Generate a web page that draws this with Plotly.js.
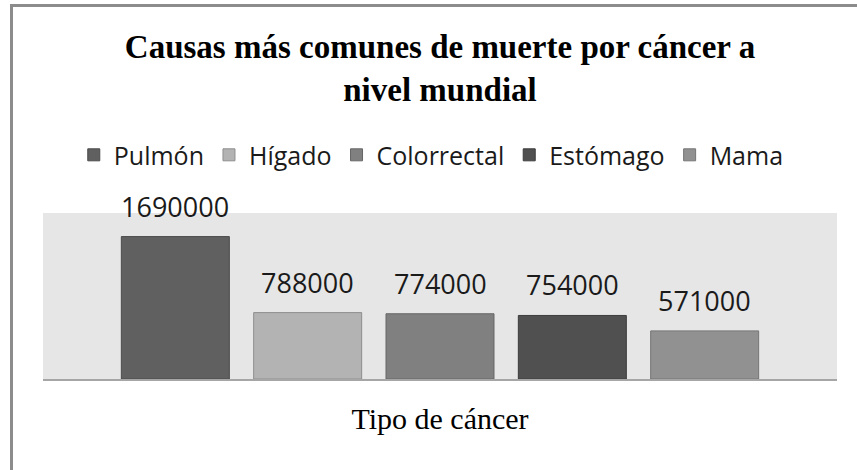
<!DOCTYPE html>
<html>
<head>
<meta charset="utf-8">
<script src="https://cdn.plot.ly/plotly-3.0.1.min.js"></script>
<style>
  html, body { margin: 0; padding: 0; background: #ffffff; }
  #wrap { position: relative; width: 857px; height: 470px; overflow: hidden; }
  #chart { position: absolute; left: 0; top: 0; width: 857px; height: 470px; }
  #frame { position: absolute; left: 10px; top: 4px; width: 900px; height: 500px;
           border-left: 3px solid #8c8c8c; border-top: 3px solid #8c8c8c; pointer-events: none; }
</style>
</head>
<body>
<div id="wrap">
  <div id="chart"></div>
  <div id="frame"></div>
</div>
<script>
// ---- data ----
const categories = ['Pulmón', 'Hígado', 'Colorrectal', 'Estómago', 'Mama'];
const deaths = [1690000, 788000, 774000, 754000, 571000];
const barColors = ['#606060', '#b3b3b3', '#808080', '#505050', '#919191'];
const outlineColors = ['#4a4a4a', '#8e8e8e', '#666666', '#3c3c3c', '#757575'];
const chartTitle = 'Causas más comunes de muerte por cáncer a<br>nivel mundial';
const xTitle = 'Tipo de cáncer';

const traces = categories.map((c, i) => ({
  type: 'bar',
  name: c,
  x: [c],
  y: [deaths[i]],
  marker: { color: barColors[i], line: { color: outlineColors[i], width: 1 } },
  hoverinfo: 'skip'
}));

const annotations = categories.map((c, i) => ({
  x: c,
  y: deaths[i],
  xref: 'x',
  yref: 'y',
  text: String(deaths[i]),
  showarrow: false,
  yanchor: 'bottom',
  xanchor: 'center',
  yshift: 10,
  font: { family: 'Open Sans', size: 27, color: '#1a1a1a' }
}));

const layout = {
  width: 857,
  height: 470,
  margin: { l: 43, r: 20, t: 213, b: 91 },
  paper_bgcolor: 'rgba(0,0,0,0)',
  plot_bgcolor: '#e6e6e6',
  barmode: 'overlay',
  bargap: 0.184,
  showlegend: true,
  title: {
    text: chartTitle,
    font: { family: 'Liberation Serif', size: 33, color: '#000000', weight: 'bold' },
    x: 0.5, xref: 'paper', xanchor: 'center',
    y: 1 - 58 / 470, yref: 'container', yanchor: 'middle'
  },
  legend: {
    orientation: 'h',
    x: 0.489, xanchor: 'center',
    y: 1.349, yanchor: 'middle',
    font: { family: 'Open Sans', size: 25, color: '#1a1a1a' },
    itemwidth: 30,
    traceorder: 'normal',
    bgcolor: 'rgba(0,0,0,0)'
  },
  xaxis: {
    type: 'category',
    categoryorder: 'array',
    categoryarray: categories,
    range: [-1, 5],
    showticklabels: false,
    ticks: '',
    showgrid: false,
    zeroline: false,
    showline: true,
    linecolor: '#a6a6a6',
    linewidth: 2,
    fixedrange: true,
    title: {
      text: xTitle,
      font: { family: 'Liberation Serif', size: 30, color: '#000000' },
      standoff: 28
    }
  },
  yaxis: {
    range: [0, 1970000],
    showticklabels: false,
    ticks: '',
    showgrid: false,
    zeroline: false,
    showline: false,
    fixedrange: true
  },
  annotations: annotations
};

Plotly.newPlot('chart', traces, layout, { staticPlot: true, displayModeBar: false });
</script>
</body>
</html>
